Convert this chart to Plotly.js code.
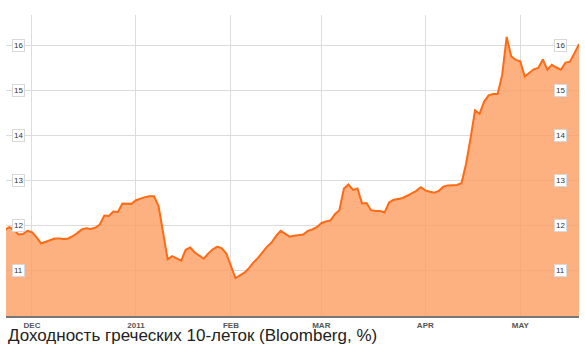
<!DOCTYPE html>
<html>
<head>
<meta charset="utf-8">
<script src="https://cdn.plot.ly/plotly-3.0.1.min.js"></script>
<style>html,body{margin:0;padding:0;background:#fff;}#chart{width:585px;height:354px;}</style>
</head>
<body>
<div id="chart"></div>
<script>
// Trading days (weekdays), Nov 2010 - May 2011
const dates = [
  '2010-11-23','2010-11-24','2010-11-25','2010-11-26','2010-11-29','2010-11-30',
  '2010-12-01','2010-12-02','2010-12-03','2010-12-06','2010-12-07','2010-12-08','2010-12-09','2010-12-10',
  '2010-12-13','2010-12-14','2010-12-15','2010-12-16','2010-12-17','2010-12-20','2010-12-21','2010-12-22',
  '2010-12-23','2010-12-24','2010-12-27','2010-12-28','2010-12-29','2010-12-30','2010-12-31',
  '2011-01-03','2011-01-04','2011-01-05','2011-01-06','2011-01-07','2011-01-10','2011-01-11','2011-01-12',
  '2011-01-13','2011-01-14','2011-01-17','2011-01-18','2011-01-19','2011-01-20','2011-01-21','2011-01-24',
  '2011-01-25','2011-01-26','2011-01-27','2011-01-28','2011-01-31',
  '2011-02-01','2011-02-02','2011-02-03','2011-02-04','2011-02-07','2011-02-08','2011-02-09','2011-02-10',
  '2011-02-11','2011-02-14','2011-02-15','2011-02-16','2011-02-17','2011-02-18','2011-02-21','2011-02-22',
  '2011-02-23','2011-02-24','2011-02-25','2011-02-28',
  '2011-03-01','2011-03-02','2011-03-03','2011-03-04','2011-03-07','2011-03-08','2011-03-09','2011-03-10',
  '2011-03-11','2011-03-14','2011-03-15','2011-03-16','2011-03-17','2011-03-18','2011-03-21','2011-03-22',
  '2011-03-23','2011-03-24','2011-03-25','2011-03-28','2011-03-29','2011-03-30','2011-03-31',
  '2011-04-01','2011-04-04','2011-04-05','2011-04-06','2011-04-07','2011-04-08','2011-04-11','2011-04-12',
  '2011-04-13','2011-04-14','2011-04-15','2011-04-18','2011-04-19','2011-04-20','2011-04-21','2011-04-22',
  '2011-04-25','2011-04-26','2011-04-27','2011-04-28','2011-04-29',
  '2011-05-02','2011-05-03','2011-05-04','2011-05-05','2011-05-06','2011-05-09','2011-05-10','2011-05-11',
  '2011-05-12','2011-05-13','2011-05-16','2011-05-17','2011-05-18','2011-05-19'
];
// Greek 10-year bond yield, %
const yields = [
  11.89,11.95,11.90,11.79,11.80,11.87,
  11.84,11.73,11.59,11.63,11.66,11.70,11.70,11.69,
  11.70,11.75,11.82,11.90,11.93,11.91,11.94,12.01,
  12.21,12.20,12.30,12.29,12.48,12.48,12.47,
  12.55,12.59,12.62,12.64,12.64,12.42,11.85,11.24,
  11.31,11.26,11.21,11.45,11.50,11.39,11.31,11.25,
  11.37,11.46,11.52,11.48,11.36,
  11.08,10.82,10.88,10.94,11.04,11.17,11.27,11.40,
  11.52,11.61,11.76,11.87,11.80,11.74,11.76,11.78,
  11.79,11.87,11.90,11.95,
  12.04,12.08,12.10,12.24,12.33,12.81,12.90,12.78,
  12.81,12.48,12.49,12.33,12.31,12.31,12.28,12.50,
  12.56,12.58,12.60,12.65,12.70,12.76,12.84,
  12.77,12.74,12.72,12.76,12.85,12.88,12.89,12.89,
  12.93,13.35,13.92,14.55,14.47,14.74,14.88,14.91,
  14.91,15.33,16.18,15.75,15.67,
  15.64,15.30,15.39,15.46,15.49,15.68,15.45,15.56,
  15.50,15.45,15.61,15.63,15.82,16.02
];
const xTickDates = ['2010-12-01','2011-01-03','2011-02-01','2011-03-01','2011-04-01','2011-05-02'];
const xTickLabels = ['DEC','2011','FEB','MAR','APR','MAY'];
const yTicks = [11,12,13,14,15,16];
const caption = 'Доходность греческих 10-леток (Bloomberg, %)';

const trace = {
  x: dates, y: yields, type: 'scatter', mode: 'lines',
  line: {color: '#ff6a14', width: 2},
  fill: 'tozeroy', fillcolor: 'rgba(252,158,98,0.8)',
  hoverinfo: 'skip'
};

const boxFont = {family: 'Liberation Sans, Arial, sans-serif', size: 8, color: '#333'};
const annotations = [];
yTicks.forEach(v => {
  annotations.push({xref: 'paper', yref: 'y', x: 0.021, y: v, text: String(v), showarrow: false,
    xanchor: 'center', yanchor: 'middle', font: boxFont, bgcolor: '#fff', bordercolor: '#d8d8d8', borderwidth: 1, borderpad: 1});
  annotations.push({xref: 'paper', yref: 'y', x: 0.967, y: v, text: String(v), showarrow: false,
    xanchor: 'center', yanchor: 'middle', font: boxFont, bgcolor: '#fff', bordercolor: '#d8d8d8', borderwidth: 1, borderpad: 1});
});
annotations.push({xref: 'paper', yref: 'paper', x: 0, y: -0.066, xanchor: 'left', yanchor: 'middle',
  text: caption, showarrow: false, font: {family: 'Liberation Sans, Arial, sans-serif', size: 17, color: '#222'}});

const layout = {
  width: 585, height: 354,
  margin: {l: 6, r: 6, t: 15, b: 38},
  paper_bgcolor: '#fff', plot_bgcolor: '#fff',
  showlegend: false,
  hovermode: false,
  xaxis: {
    type: 'date',
    range: ['2010-11-23 06:00', '2011-05-19'],
    rangebreaks: [{bounds: ['sat', 'mon']}],
    tickmode: 'array', tickvals: xTickDates, ticktext: xTickLabels,
    tickfont: {family: 'Liberation Sans, Arial, sans-serif', size: 8, color: '#555', weight: 'bold'},
    showgrid: true, gridcolor: '#dcdcdc', gridwidth: 1,
    showline: true, linecolor: '#777', linewidth: 2,
    ticks: '', zeroline: false, fixedrange: true
  },
  yaxis: {
    range: [9.978, 16.667],
    tickmode: 'array', tickvals: yTicks,
    showticklabels: false,
    showgrid: true, gridcolor: '#dcdcdc', gridwidth: 1,
    zeroline: false, showline: false, ticks: '', fixedrange: true
  },
  annotations: annotations
};

Plotly.newPlot('chart', [trace], layout, {displayModeBar: false, staticPlot: true});
</script>
</body>
</html>
